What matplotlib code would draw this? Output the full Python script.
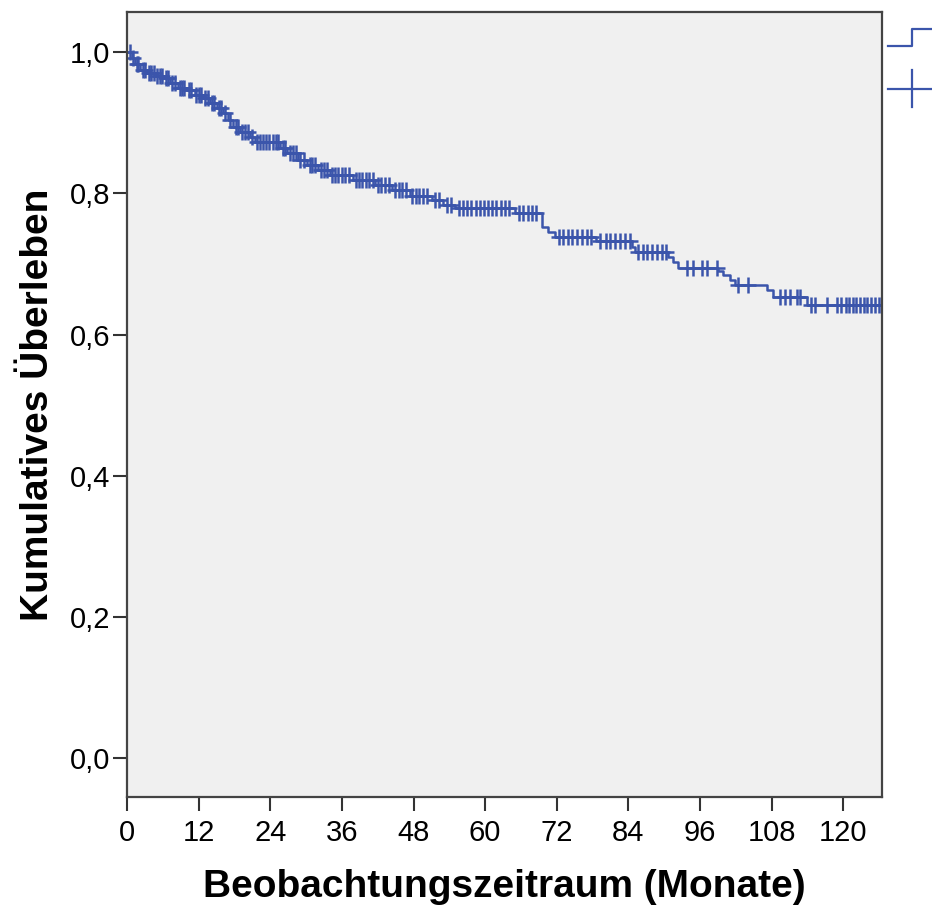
import matplotlib
matplotlib.use("Agg")
import matplotlib.pyplot as plt
from matplotlib.lines import Line2D
import numpy as np

# Kaplan-Meier: event times (months) and survival after each drop
event_t = [0, 0.84, 1.34, 2.2, 3.35, 5.0, 6.0, 7.2, 8.5, 10.1, 11.4, 12.7, 13.9,
           15.1, 16.1, 16.9, 17.8, 19.0, 20.6, 21.5, 25.6, 26.8, 28.7, 30.2,
           32.0, 34.0, 37.9, 41.6, 44.4, 47.4, 51.1, 53.0, 55.0, 65.0, 69.5,
           70.5, 71.7, 78.5, 84.6, 85.1, 90.7, 91.5, 92.3, 99.0, 99.9, 101.1,
           101.9, 107.3, 108.3, 114.0]
event_s = [1.0, 0.992, 0.984, 0.975, 0.970, 0.967, 0.963, 0.956, 0.950, 0.946,
           0.939, 0.935, 0.928, 0.921, 0.914, 0.904, 0.894, 0.887, 0.880, 0.873,
           0.865, 0.857, 0.847, 0.840, 0.833, 0.826, 0.819, 0.812, 0.805, 0.797,
           0.790, 0.783, 0.780, 0.772, 0.752, 0.745, 0.738, 0.732, 0.724, 0.717,
           0.710, 0.703, 0.695, 0.690, 0.684, 0.678, 0.670, 0.663, 0.653, 0.642]

# censored observations (months)
censor_t = [0.5, 1.0, 1.6, 1.9, 2.6, 3.0, 3.6, 4.0, 4.5, 5.0, 5.5, 5.8, 6.5,
            6.9, 7.6, 8.0, 8.8, 9.2, 9.6, 10.4, 10.8, 11.6, 12.0, 12.4, 13.0,
            13.5, 14.2, 14.6, 15.4, 15.8, 16.4, 17.2, 18.2, 18.6, 19.3, 19.8,
            20.3, 21.0, 21.8, 22.3, 22.8, 23.3, 23.8, 24.4, 24.9, 25.3, 26.1,
            26.5, 27.3, 27.8, 28.3, 29.0, 29.6, 30.6, 31.0, 31.5, 32.5, 33.0,
            33.5, 34.4, 34.9, 35.4, 36.0, 36.6, 37.2, 38.3, 38.8, 39.4, 40.0,
            40.6, 41.2, 42.0, 42.6, 43.2, 43.9, 44.9, 45.5, 46.1, 46.8, 47.8,
            48.4, 49.0, 49.6, 50.3, 51.6, 52.2, 53.6, 54.3, 55.6, 56.3, 57.0,
            57.7, 58.4, 59.1, 59.8, 60.5, 61.2, 61.9, 62.6, 63.3, 64.0, 65.7,
            66.4, 67.1, 67.8, 68.5, 72.3, 73.0, 73.8, 74.6, 75.4, 76.2, 77.0,
            77.8, 79.3, 80.2, 81.0, 81.8, 82.6, 83.4, 84.2, 85.6, 86.4, 87.2,
            88.0, 88.8, 89.6, 90.3, 93.9, 94.9, 96.4, 97.2, 98.9, 102.4, 104.1,
            109.4, 110.3, 111.1, 112.3, 112.8, 114.6, 115.3, 117.3, 119.0,
            119.7, 120.4, 121.0, 121.6, 122.2, 122.8, 123.4, 124.0, 124.6,
            125.3, 126.0]

color = "#3b55ab"
plt.rcParams["font.family"] = ["Liberation Sans", "DejaVu Sans"]

fig = plt.figure(figsize=(9.32, 9.07), dpi=100)
ax = fig.add_axes([0.1363, 0.1213, 0.8101, 0.8655])
ax.set_facecolor("#f0f0f0")

t_end = 126.5
ax.step(event_t + [t_end], event_s + [event_s[-1]], where="post",
        color=color, lw=1.8)
idx = np.searchsorted(event_t, censor_t, side="right") - 1
cens_s = np.array(event_s)[idx]
ax.plot(censor_t, cens_s, ls="none", marker="+", ms=11, mew=1.8, color=color)

ax.set_xlim(0, t_end)
ax.set_ylim(-0.055, 1.057)
ax.set_xticks(range(0, 121, 12))
ax.set_yticks([0, 0.2, 0.4, 0.6, 0.8, 1.0])
ax.set_yticklabels(["0,0", "0,2", "0,4", "0,6", "0,8", "1,0"])
ax.tick_params(axis="both", direction="out", length=10, width=1.5,
               color="#333333", labelsize=21, pad=2)
ax.tick_params(axis="x", pad=6)
for sp in ax.spines.values():
    sp.set_color("#444444")
    sp.set_linewidth(1.6)

ax.set_xlabel("Beobachtungszeitraum (Monate)", fontsize=28, fontweight="bold",
              labelpad=16)
ax.set_ylabel("Kumulatives Überleben", fontsize=28, fontweight="bold",
              labelpad=10)

# legend symbols, cut off at the right edge as in the original
fig.add_artist(Line2D([888/932, 912/932, 912/932, 1.0],
                      [1-46/907, 1-46/907, 1-29/907, 1-29/907],
                      transform=fig.transFigure, color=color, lw=1.6))
fig.add_artist(Line2D([888/932, 1.0], [1-89/907, 1-89/907],
                      transform=fig.transFigure, color=color, lw=1.6))
fig.add_artist(Line2D([912/932, 912/932], [1-70/907, 1-107/907],
                      transform=fig.transFigure, color=color, lw=1.6))

fig.savefig("out.png", dpi=100, facecolor="white")
